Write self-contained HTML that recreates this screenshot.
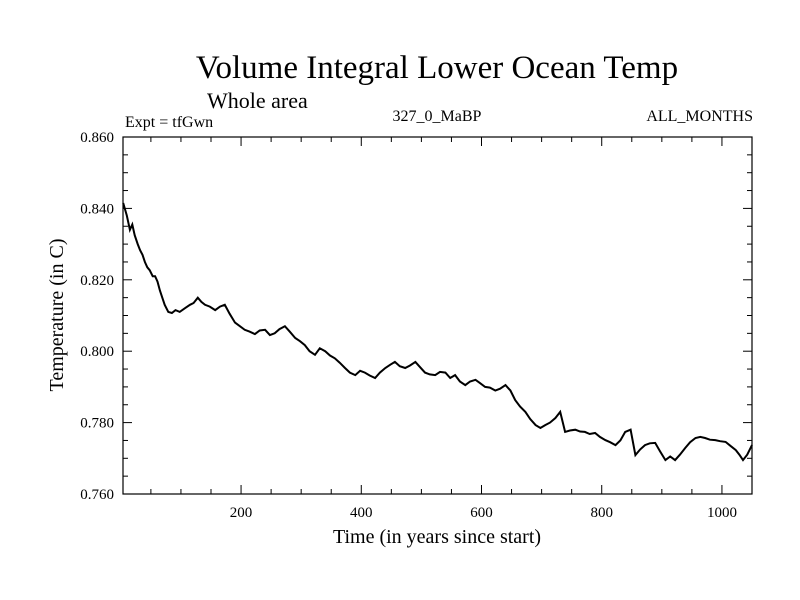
<!DOCTYPE html>
<html><head><meta charset="utf-8"><style>
body{margin:0;background:#fff;}
svg{display:block;font-family:"Liberation Serif",serif;}
</style></head><body>
<svg id="chart" width="800" height="600">
<text x="437" y="78" font-size="33" text-anchor="middle">Volume Integral Lower Ocean Temp</text>
<text x="207" y="108" font-size="22">Whole area</text>
<text x="125" y="127" font-size="16">Expt = tfGwn</text>
<text x="437" y="121" font-size="16" text-anchor="middle">327_0_MaBP</text>
<text x="753" y="121" font-size="16" text-anchor="end">ALL_MONTHS</text>
<text x="437" y="543" font-size="20" text-anchor="middle">Time (in years since start)</text>
<text x="63" y="315" font-size="20" text-anchor="middle" transform="rotate(-90 63 315)">Temperature (in C)</text>
<g id="axes"></g>
<path id="line" fill="none" stroke="#000" stroke-width="2"></path>
<rect x="123" y="137" width="629" height="357" fill="none" stroke="#000" stroke-width="1.2"></rect>
</svg>
<script>
const years=[4,10,15,19,23,28,32,36,40,44,48,53,57,61,65,69,73,79,85,91,98,106,115,121,128,134,140,148,157,165,173,181,190,198,206,214,223,231,240,248,256,264,273,281,290,298,306,314,323,331,340,348,356,364,373,381,390,398,406,414,423,431,440,448,456,464,473,481,490,498,506,514,523,531,540,548,556,564,573,581,590,598,606,614,623,631,640,648,656,664,673,681,690,698,706,714,723,731,739,747,756,764,772,780,789,797,806,814,823,831,839,848,856,864,872,880,889,897,906,914,922,930,939,947,956,964,972,980,989,997,1006,1014,1023,1029,1035,1042,1050];
const temps=[0.8415,0.838,0.834,0.8355,0.8325,0.830,0.8283,0.827,0.825,0.8235,0.8227,0.821,0.821,0.8195,0.817,0.815,0.813,0.811,0.8107,0.8115,0.811,0.812,0.813,0.8135,0.815,0.8138,0.813,0.8125,0.8115,0.8125,0.813,0.8105,0.808,0.807,0.806,0.8055,0.8048,0.8058,0.806,0.8045,0.805,0.8062,0.807,0.8055,0.8037,0.8028,0.8017,0.8,0.799,0.8008,0.800,0.7988,0.798,0.7968,0.7953,0.794,0.7933,0.7945,0.794,0.7932,0.7925,0.794,0.7953,0.7962,0.797,0.7958,0.7953,0.796,0.797,0.7955,0.794,0.7935,0.7933,0.7942,0.794,0.7925,0.7933,0.7915,0.7905,0.7915,0.792,0.791,0.790,0.7898,0.789,0.7895,0.7905,0.789,0.7863,0.7845,0.783,0.781,0.7793,0.7785,0.7793,0.780,0.7813,0.783,0.7774,0.7778,0.778,0.7775,0.7774,0.7768,0.7771,0.776,0.7751,0.7745,0.7737,0.775,0.7774,0.778,0.7709,0.7725,0.7737,0.7742,0.7743,0.772,0.7695,0.7705,0.7695,0.771,0.7729,0.7745,0.7757,0.776,0.7757,0.7752,0.7751,0.7748,0.7746,0.7735,0.7723,0.771,0.7695,0.771,0.7737];
const xTicks=[200,400,600,800,1000];
const yTicks=[0.760,0.780,0.800,0.820,0.840,0.860];
const X0=123,X1=752,Y0=494,Y1=137,xMin=3.6,xMax=1050,yMin=0.76,yMax=0.86;
const sx=v=>X0+(v-xMin)/(xMax-xMin)*(X1-X0);
const sy=v=>Y0-(v-yMin)/(yMax-yMin)*(Y0-Y1);
const NS="http://www.w3.org/2000/svg";
const ax=document.getElementById('axes');
function ln(x1,y1,x2,y2,name){const l=document.createElementNS(NS,'line');l.setAttribute('x1',x1);l.setAttribute('y1',y1);l.setAttribute('x2',x2);l.setAttribute('y2',y2);l.setAttribute('stroke','#000');l.setAttribute('stroke-width','1');


ax.appendChild(l);}
function tx(x,y,s,anchor,name){const t=document.createElementNS(NS,'text');t.setAttribute('x',x);t.setAttribute('y',y);t.setAttribute('font-size','15');t.setAttribute('text-anchor',anchor);t.textContent=s;


ax.appendChild(t);}
for(let v=50;v<=1050;v+=50){const x=sx(v);const L=(v%200===0)?9:5;ln(x,Y0,x,Y0-L,'x-tick');ln(x,Y1,x,Y1+L,'x-tick-top');}
xTicks.forEach(v=>tx(sx(v),Y0+23,String(v),'middle','x-tick-label'));
for(let i=0;i<=20;i++){const v=yMin+i*0.005;const y=sy(v);const L=(i%4===0)?9:5;ln(X0,y,X0+L,y,'y-tick');ln(X1,y,X1-L,y,'y-tick-right');}
yTicks.forEach(v=>tx(X0-9,sy(v)+5,v.toFixed(3),'end','y-tick-label'));
document.getElementById('line').setAttribute('d',years.map((y,i)=>(i?'L':'M')+sx(y).toFixed(1)+','+sy(temps[i]).toFixed(1)).join(''));
</script>
</body></html>
